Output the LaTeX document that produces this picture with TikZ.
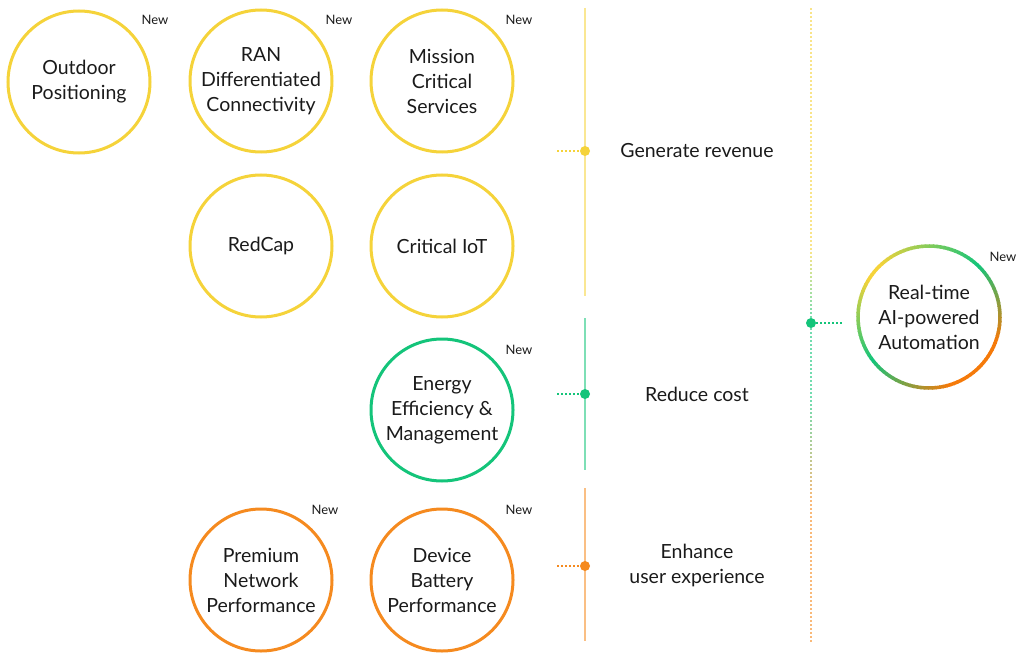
\documentclass[tikz,border=0pt]{standalone}
\usepackage{fontspec}
\setmainfont{Lato}
\definecolor{gyellow}{HTML}{F5D33A}
\definecolor{ggreen}{HTML}{14C47A}
\definecolor{gorange}{HTML}{F58A1F}
\definecolor{rorange}{HTML}{F57A0A}
\definecolor{txt}{HTML}{1A1A1A}
\tikzset{
  circ/.style={circle, draw=#1, line width=3pt, minimum size=142pt, inner sep=0pt, align=center,
    font=\fontsize{19.5}{25}\selectfont, text=txt},
  newlbl/.style={font=\fontsize{13}{15}\selectfont, text=txt, inner sep=0pt},
  goal/.style={font=\fontsize{19.5}{25}\selectfont, text=txt, align=center, inner sep=0pt},
  pin/.style={circle, fill=#1, minimum size=10pt, inner sep=0pt},
  vline/.style={draw=#1!55, line width=1.5pt},
  dotline/.style={draw=#1, line width=2pt, dash pattern=on 2pt off 2pt},
}
\begin{document}
\begin{tikzpicture}[x=1pt,y=1pt]
\useasboundingbox (0,0) rectangle (1024,-663);
% circles
\node[circ=gyellow] (op) at (79,-82) {Outdoor\\Positioning};
\node[circ=gyellow] (ran) at (261,-81) {RAN\\Differentiated\\Connectivity};
\node[circ=gyellow] (mcs) at (442,-81) {Mission\\Critical\\Services};
\node[circ=gyellow] (rc) at (261,-246) {RedCap};
\node[circ=gyellow] (ciot) at (442,-246) {Critical IoT};
\node[circ=ggreen] (ee) at (442,-410) {Energy\\Efficiency \&\\Management};
\node[circ=gorange] (pnp) at (261,-580) {Premium\\Network\\Performance};
\node[circ=gorange] (dbp) at (442,-580) {Device\\Battery\\Performance};
% New labels
\node[newlbl] (n1) at (155,-20) {New};
\node[newlbl] (n2) at (339,-20) {New};
\node[newlbl] (n3) at (519,-20) {New};
\node[newlbl] (n4) at (519,-350) {New};
\node[newlbl] (n5) at (325,-510) {New};
\node[newlbl] (n6) at (519,-510) {New};
\node[newlbl] (n7) at (1003,-257) {New};
% vertical lines
\coordinate (y1) at (585,-8);
\coordinate (y2) at (585,-296);
\coordinate (g1) at (585,-318);
\coordinate (g2) at (585,-470);
\coordinate (o1) at (585,-488);
\coordinate (o2) at (585,-641);
\draw[vline=gyellow] (y1) -- (y2);
\draw[vline=ggreen] (g1) -- (g2);
\draw[vline=gorange] (o1) -- (o2);
% pins and goals
\node[pin=gyellow] (p1) at (585,-151) {};
\node[pin=ggreen] (p2) at (585,-394) {};
\node[pin=gorange] (p3) at (585,-566) {};
\coordinate (s1) at (557,-151);
\coordinate (s2) at (557,-394);
\coordinate (s3) at (557,-566);
\draw[dotline=gyellow] (s1) -- (p1);
\draw[dotline=ggreen] (s2) -- (p2);
\draw[dotline=gorange] (s3) -- (p3);
\node[goal] (gr) at (697,-151) {Generate revenue};
\node[goal] (rcost) at (697,-394) {Reduce cost};
\node[goal] (ue) at (697,-565) {Enhance\\user experience};
% right gradient dotted line
\foreach \y in {8,12,...,248} {\fill[gyellow!60] (810.2,-\y) rectangle (811.8,-\y-2);}
\foreach \y in {252,256,...,320} {\pgfmathsetmacro\t{(\y-250)/70*100}\fill[ggreen!\t!gyellow,opacity=0.6] (810.2,-\y) rectangle (811.8,-\y-2);}
\foreach \y in {324,328,...,400} {\fill[ggreen!60] (810.2,-\y) rectangle (811.8,-\y-2);}
\foreach \y in {404,408,...,500} {\pgfmathsetmacro\t{(\y-400)/100*100}\fill[gorange!\t!ggreen,opacity=0.6] (810.2,-\y) rectangle (811.8,-\y-2);}
\foreach \y in {504,508,...,640} {\fill[gorange!60] (810.2,-\y) rectangle (811.8,-\y-2);}
% AI circle
\node[circle, minimum size=142pt, inner sep=0pt, align=center, font=\fontsize{19.5}{25}\selectfont, text=txt] (ai) at (929,-317) {Real-time\\AI-powered\\Automation};
\foreach \i in {0,...,119} {
  \pgfmathsetmacro\a{150-3*\i}
  \ifnum\i<5 \colorlet{rc}{gyellow}\else
  \ifnum\i<34 \pgfmathsetmacro\t{(\i-5)/29*100}\colorlet{rc}{ggreen!\t!gyellow}\else
  \ifnum\i<56 \pgfmathsetmacro\t{(\i-34)/22*100}\colorlet{rc}{rorange!\t!ggreen}\else
  \ifnum\i<74 \colorlet{rc}{rorange}\else
  \ifnum\i<97 \pgfmathsetmacro\t{(\i-74)/23*100}\colorlet{rc}{ggreen!\t!rorange}\else
  \pgfmathsetmacro\t{(\i-97)/23*100}\colorlet{rc}{gyellow!\t!ggreen}\fi\fi\fi\fi\fi
  \draw[line width=3.5pt, draw=rc] ([shift={(\a:71)}]ai.center) arc[start angle=\a, end angle=\a-3.8, radius=71];
}
\node[pin=ggreen] (p4) at (811,-323) {};
\coordinate (s4) at (842,-323);
\draw[dotline=ggreen] (p4) -- (s4);
\end{tikzpicture}
\end{document}
